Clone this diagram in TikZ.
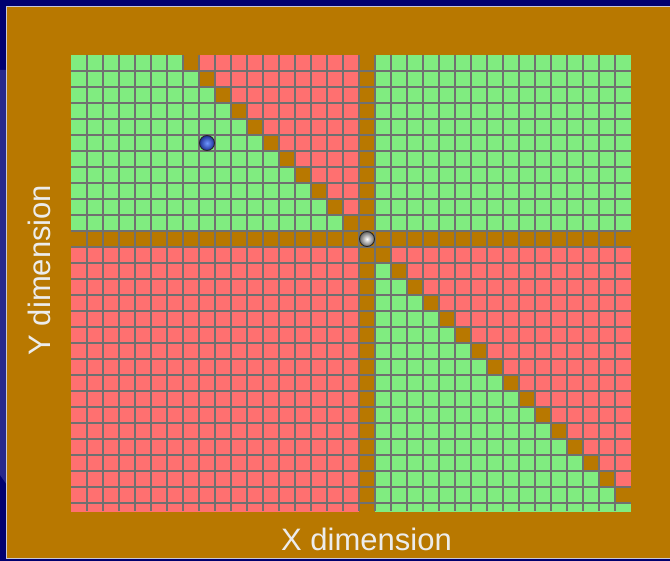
\documentclass[tikz,border=0pt]{standalone}
\usepackage{fontspec}
\setmainfont{Liberation Sans}
\definecolor{brn}{RGB}{184,120,0}
\definecolor{grn}{RGB}{128,236,128}
\definecolor{rd}{RGB}{255,112,112}
\definecolor{gridc}{RGB}{112,112,112}
\definecolor{navy}{RGB}{0,0,112}
\definecolor{navylight}{RGB}{40,40,140}
\definecolor{framec}{RGB}{200,200,215}
\definecolor{labc}{RGB}{236,236,236}
\definecolor{bhl}{RGB}{110,150,255}
\definecolor{bdk}{RGB}{30,50,150}
\tikzset{
  gridline/.style={draw=gridc, line width=1.5pt},
  lab/.style={text=labc, font=\fontsize{31}{31}\selectfont, inner sep=0pt},
  bluemarble/.style={circle, minimum size=15pt, inner sep=0pt, draw=black!85, line width=0.9pt, inner color=bhl, outer color=bdk},
  whitemarble/.style={circle, minimum size=15pt, inner sep=0pt, draw=black!85, line width=0.9pt, inner color=white, outer color=black!60},
}
\begin{document}
\begin{tikzpicture}[x=1pt,y=-1pt]
\useasboundingbox (0,0) rectangle (670,561);
% background
\fill[navy] (-2,-2) rectangle (672,563);
\fill[navylight] (0,70) -- (7,70) -- (7,485) -- (0,475) -- cycle;
\fill[brn] (7,7) rectangle (674,558);
\draw[framec, line width=1.2pt] (674,6.6) -- (6.6,6.6) -- (6.6,558.4) -- (674,558.4);
% cells
\begin{scope}
\clip (71,55) rectangle (631,511);
\foreach \r in {0,...,28}{%
  \foreach \c in {0,...,34}{%
    \pgfmathtruncatemacro{\d}{\c-\r-7}%
    \def\cc{grn}%
    \ifnum\d>0 \def\cc{rd}\fi
    \ifnum\r>11 \ifnum\c<18 \def\cc{rd}\fi\fi
    \ifnum\r<11 \ifnum\c>18 \def\cc{grn}\fi\fi
    \ifnum\d=0 \def\cc{brn}\fi
    \ifnum\r=11 \def\cc{brn}\fi
    \ifnum\c=18 \def\cc{brn}\fi
    \fill[\cc] (71+16*\c,55+16*\r) rectangle ++(16,16);
  }%
}
\foreach \i in {1,...,34}{\draw[gridline] (71+16*\i,55) -- (71+16*\i,511);}
\foreach \j in {1,...,28}{\draw[gridline] (71,55+16*\j) -- (631,55+16*\j);}
\end{scope}
% marbles
\node[bluemarble] (blue) at (207,143) {};
\node[whitemarble] (white) at (367,239) {};
% labels
\node[lab, anchor=base] (xlab) at (366.5,550) {X dimension};
\node[lab, anchor=base, rotate=90] (ylab) at (50,270) {Y dimension};
\end{tikzpicture}
\end{document}
